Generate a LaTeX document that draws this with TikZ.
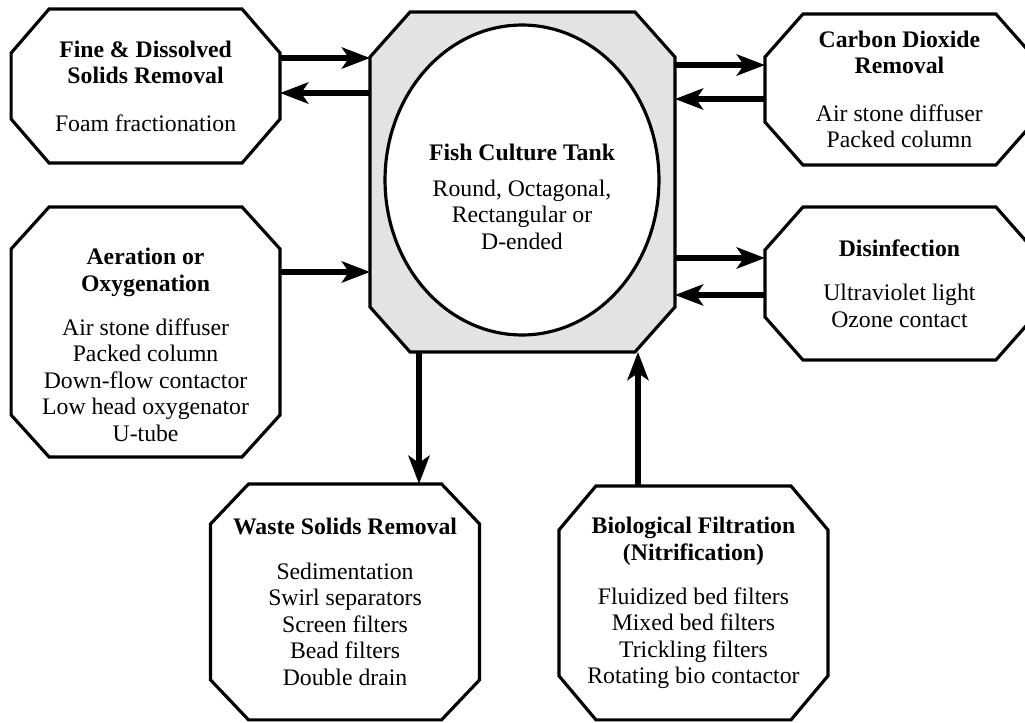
\documentclass[tikz,border=0pt]{standalone}
\usepackage{fontspec}
\setmainfont{Liberation Serif}
\usetikzlibrary{shapes.geometric, arrows.meta, positioning}
\tikzset{
  octbox/.style={rectangle, minimum width=5.38cm, align=center, inner sep=0pt, outer sep=0pt,
                 font=\fontsize{13.5}{15.1}\selectfont},
  tankbox/.style={octbox, minimum width=6.1cm, minimum height=6.8cm},
  frame/.style={draw=black, line width=1.8pt, line join=miter},
  basin/.style={ellipse, draw=black, line width=1.8pt, fill=white,
                minimum width=5.48cm, minimum height=6.2cm, inner sep=0pt},
  tanklabel/.style={align=center, font=\fontsize{13.5}{15.1}\selectfont},
  arrow/.style={-{Stealth[length=16pt, width=12pt, inset=4pt]}, line width=3.4pt},
}
% octagonal outline round a rectangular node: [fill]{node}{x cut}{y cut}
\newcommand{\octframe}[4][none]{%
  \draw[frame, fill=#1] ([xshift=#3]#2.north west) -- ([xshift=-#3]#2.north east)
    -- ([yshift=-#4]#2.north east) -- ([yshift=#4]#2.south east)
    -- ([xshift=-#3]#2.south east) -- ([xshift=#3]#2.south west)
    -- ([yshift=#4]#2.south west) -- ([yshift=-#4]#2.north west) -- cycle;}
\begin{document}
\begin{tikzpicture}[x=0.02cm, y=-0.02cm]
  \clip (0,0) rectangle (1025,723);

  %% Centre tank
  \node[tankbox] (tank) at (522.5,182) {};
  \octframe[black!11]{tank}{0.8cm}{0.9cm}
  \node[basin] (basin) at (522,180) {};
  \node[tanklabel] (tanktext) at (522,197) {\textbf{Fish Culture Tank}\\[5pt]Round, Octagonal,\\Rectangular or\\D-ended};

  %% Left side
  \node[octbox, minimum height=3.08cm, left=1.8cm of tank.north west, anchor=north east, yshift=0.06cm] (fine)
    {\textbf{Fine \& Dissolved}\\\textbf{Solids Removal}\\[12pt]Foam fractionation};
  \node[octbox, minimum height=5.0cm, below=0.88cm of fine] (aeration)
    {\rule{0pt}{24pt}\textbf{Aeration or}\\\textbf{Oxygenation}\\[10pt]Air stone diffuser\\Packed column\\Down-flow contactor\\Low head oxygenator\\U-tube};

  %% Right side
  \node[octbox, minimum height=3.02cm, right=1.8cm of tank.north east, anchor=north west, yshift=-0.04cm] (co2)
    {\textbf{Carbon Dioxide}\\\textbf{Removal}\\[12pt]Air stone diffuser\\Packed column};
  \node[octbox, minimum height=3.06cm, below=0.84cm of co2] (disinfect)
    {\textbf{Disinfection}\\[10pt]Ultraviolet light\\Ozone contact};

  %% Bottom
  \node[octbox, minimum height=4.72cm, below=2.64cm of tank, xshift=-3.55cm] (waste)
    {\textbf{Waste Solids Removal}\\[10pt]Sedimentation\\Swirl separators\\Screen filters\\Bead filters\\Double drain};
  \node[octbox, minimum height=4.68cm, below=2.68cm of tank, xshift=3.42cm] (biofilter)
    {\textbf{Biological Filtration}\\\textbf{(Nitrification)}\\[10pt]Fluidized bed filters\\Mixed bed filters\\Trickling filters\\Rotating bio contactor};

  \octframe{fine}{0.76cm}{0.88cm}
  \octframe{aeration}{0.76cm}{0.84cm}
  \octframe{co2}{0.76cm}{0.86cm}
  \octframe{disinfect}{0.76cm}{0.86cm}
  \octframe{waste}{0.76cm}{0.8cm}
  \octframe{biofilter}{0.74cm}{0.88cm}

  %% Flows
  \draw[arrow] ([yshift=0.56cm]fine.east) -- ([yshift=0.56cm]fine.east -| tank.west);
  \draw[arrow] ([yshift=-0.14cm]fine.east -| tank.west) -- ([yshift=-0.14cm]fine.east);
  \draw[arrow] ([yshift=1.2cm]aeration.east) -- ([yshift=1.2cm]aeration.east -| tank.west);

  \draw[arrow] ([yshift=0.49cm]co2.west -| tank.east) -- ([yshift=0.49cm]co2.west);
  \draw[arrow] ([yshift=-0.19cm]co2.west) -- ([yshift=-0.19cm]co2.west -| tank.east);
  \draw[arrow] ([yshift=0.51cm]disinfect.west -| tank.east) -- ([yshift=0.51cm]disinfect.west);
  \draw[arrow] ([yshift=-0.23cm]disinfect.west) -- ([yshift=-0.23cm]disinfect.west -| tank.east);

  \draw[arrow] ([xshift=-2.07cm]tank.south) -- ([xshift=-2.07cm]tank.south |- waste.north);
  \draw[arrow] ([xshift=2.31cm]tank.south |- biofilter.north) -- ([xshift=2.31cm]tank.south);

\end{tikzpicture}
\end{document}
